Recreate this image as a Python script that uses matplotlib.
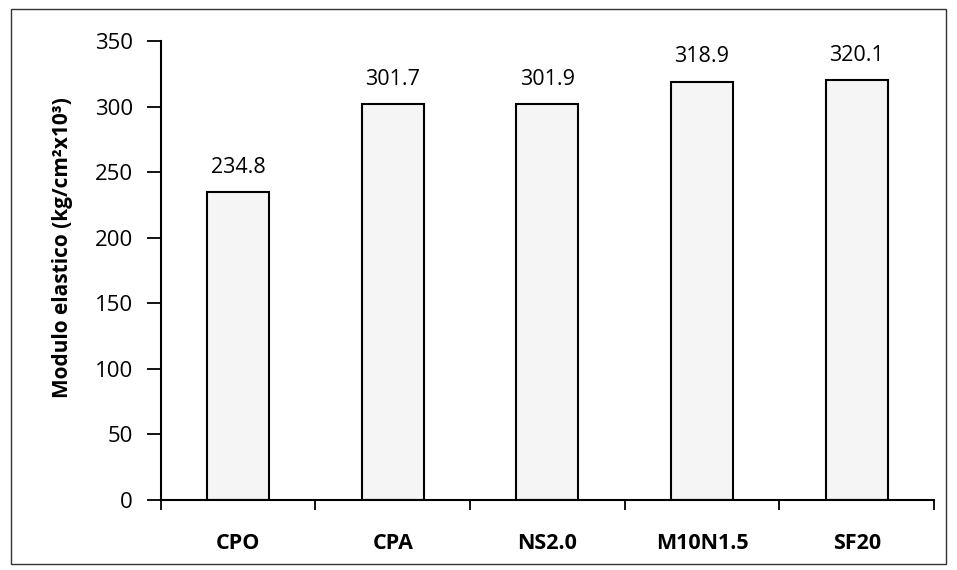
import matplotlib.pyplot as plt
from matplotlib.patches import Rectangle

categories = ["CPO", "CPA", "NS2.0", "M10N1.5", "SF20"]
values = [234.8, 301.7, 301.9, 318.9, 320.1]
yticks = [0, 50, 100, 150, 200, 250, 300, 350]

plt.rcParams['font.family'] = ['Open Sans', 'DejaVu Sans']

fig = plt.figure(figsize=(9.57, 5.7), dpi=100)
ax = fig.add_axes([0.168, 0.123, 0.808, 0.805])

x = list(range(len(categories)))
ax.bar(x, values, width=0.4, color="#f5f5f5", edgecolor="black", linewidth=1.5)
for xi, v in zip(x, values):
    ax.text(xi, v + 11, f"{v:.1f}", ha="center", va="bottom", fontsize=15.5)

ax.set_xlim(-0.5, len(categories) - 0.5)
ax.set_ylim(0, 350)
ax.set_yticks(yticks)
ax.set_yticklabels([str(t) for t in yticks], fontsize=16)
ax.set_xticks([i - 0.5 for i in range(len(categories) + 1)])
ax.set_xticklabels([])
ax.set_xticks(x, minor=True)
ax.set_xticklabels(categories, minor=True, fontsize=15.5, fontweight="bold")
ax.tick_params(axis="x", which="minor", length=0, pad=24)
ax.tick_params(axis="x", which="major", length=7, width=1.3, direction="out")
ax.tick_params(axis="y", length=10, width=1.3, direction="out", pad=10)
ax.spines["top"].set_visible(False)
ax.spines["right"].set_visible(False)
ax.spines["left"].set_linewidth(1.5)
ax.spines["bottom"].set_linewidth(1.5)
ax.set_ylabel("Modulo elastico (kg/cm²x10³)", fontsize=15, fontweight="bold")
ax.yaxis.set_label_coords(-0.114, 0.55)

fig.patches.append(Rectangle((0.011, 0.01), 0.978, 0.975, transform=fig.transFigure,
                             fill=False, edgecolor="#333333", linewidth=1.0))

fig.savefig("out.png", dpi=100)
